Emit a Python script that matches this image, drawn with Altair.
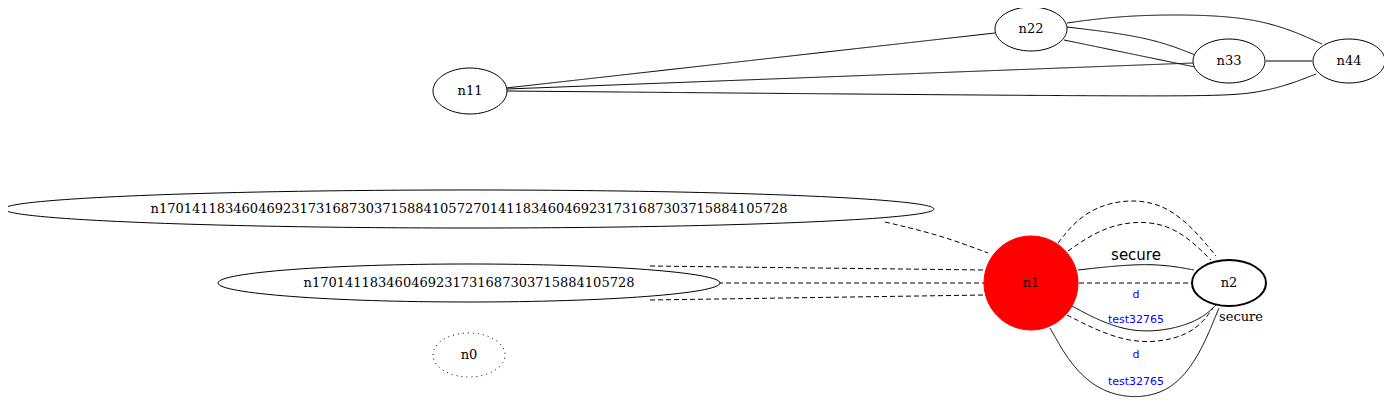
import altair as alt
import pandas as pd

LONG1 = "n1701411834604692317316873037158841057270141183460469231731687303715884105728"
LONG2 = "n170141183460469231731687303715884105728"

# nós: nome, x, y, largura, altura, estilo (coordenadas, em px)
node_names = ["n11", "n22", "n33", "n44", LONG1, LONG2, "n0", "n1", "n2"]
node_x = [470, 1031, 1229, 1349, 469, 469, 469, 1031, 1229]
node_y = [91, 29, 61, 61, 209, 283, 355, 283, 283]
node_w = [74, 72, 72, 72, 930, 502, 72, 94, 74]
node_h = [46, 44, 44, 44, 38, 38, 44, 94, 46]
node_style = ["plain", "plain", "plain", "plain", "plain", "plain", "dotted", "red", "bold"]

# arestas: pontos de controle e estilo
edges = {
    "a": ([(506, 88), (995, 33)], "solid"),
    "b": ([(507, 89), (1193, 63)], "solid"),
    "c": ([(507, 91), (1180, 97), (1262, 95), (1316, 74)], "solid"),
    "d": ([(1067, 27), (1150, 37), (1195, 55)], "solid"),
    "e": ([(1064, 40), (1195, 67)], "solid"),
    "f": ([(1067, 23), (1110, 17), (1170, 14), (1262, 17), (1322, 44)], "solid"),
    "g": ([(1266, 61), (1312, 61)], "solid"),
    "h": ([(885, 222), (940, 235), (988, 253)], "dashed"),
    "i": ([(650, 266), (985, 270)], "dashed"),
    "j": ([(718, 283), (984, 283)], "dashed"),
    "k": ([(650, 300), (985, 295)], "dashed"),
    "l": ([(1058, 243), (1090, 203), (1165, 195), (1216, 256)], "dashed"),
    "m": ([(1068, 251), (1110, 222), (1170, 220), (1211, 260)], "dashed"),
    "n": ([(1078, 270), (1150, 262), (1194, 270)], "solid"),
    "o": ([(1079, 283), (1192, 283)], "dashed"),
    "p": ([(1070, 305), (1130, 337), (1195, 325), (1216, 305)], "solid"),
    "q": ([(1067, 315), (1130, 347), (1192, 337), (1213, 308)], "dashed"),
    "r": ([(1050, 328), (1090, 398), (1180, 402), (1219, 308)], "solid"),
}

# rótulos das arestas
lab_text = ["secure", "d", "test32765", "d", "test32765", "secure"]
lab_x = [1136, 1136, 1136, 1136, 1136, 1241]
lab_y = [255, 295, 320, 355, 382, 317]
lab_color = ["black", "blue", "blue", "blue", "blue", "black"]
lab_font = ["DejaVu Sans", "DejaVu Sans", "DejaVu Sans", "DejaVu Sans", "DejaVu Sans", "DejaVu Serif"]
lab_size = [15, 11, 11, 11, 11, 13]

nodes = pd.DataFrame({"name": node_names, "x": node_x, "y": node_y,
                      "w": node_w, "h": node_h, "style": node_style})
nodes["size"] = nodes["w"] ** 2
nodes["shape"] = [f"M -1 0 A 1 {h / w:.4f} 0 1 1 1 0 A 1 {h / w:.4f} 0 1 1 -1 0 Z"
                  for w, h in zip(nodes["w"], nodes["h"])]

rows = []
for key, (pts, st) in edges.items():
    for i, (px, py) in enumerate(pts):
        rows.append({"edge": key, "i": i, "x": px, "y": py, "style": st})
edf = pd.DataFrame(rows)

labels = pd.DataFrame({"t": lab_text, "x": lab_x, "y": lab_y, "c": lab_color,
                       "f": lab_font, "s": lab_size})

X = alt.X("x:Q", scale=alt.Scale(domain=[8, 1384]), axis=None)
Y = alt.Y("y:Q", scale=alt.Scale(domain=[399, 8]), axis=None)


def edge_layer(st, dash):
    return alt.Chart(edf[edf["style"] == st]).mark_line(
        interpolate="basis", color="black", strokeWidth=1, strokeDash=dash
    ).encode(x=X, y=Y, detail="edge:N", order="i:Q")


def node_layer(st, **kw):
    return alt.Chart(nodes[nodes["style"] == st]).mark_point(
        filled=False, opacity=1, **kw
    ).encode(x=X, y=Y, size=alt.Size("size:Q", scale=None),
             shape=alt.Shape("shape:N", scale=None))


camadas = [
    edge_layer("solid", [1, 0]),
    edge_layer("dashed", [5, 3]),
    node_layer("plain", stroke="black", strokeWidth=1, fill="white", fillOpacity=1),
    node_layer("dotted", stroke="black", strokeWidth=1, strokeDash=[1, 4]),
    node_layer("red", stroke="red", fill="red", fillOpacity=1, strokeWidth=1),
    node_layer("bold", stroke="black", strokeWidth=2, fill="white", fillOpacity=1),
    alt.Chart(nodes).mark_text(font="DejaVu Serif", fontSize=13, color="black").encode(
        x=X, y=Y, text="name:N"),
]
for i in range(len(labels)):
    camadas.append(alt.Chart(labels.iloc[[i]]).mark_text(
        font=labels["f"][i], fontSize=int(labels["s"][i]), color=labels["c"][i]
    ).encode(x=X, y=Y, text="t:N"))

chart = alt.layer(*camadas).properties(
    width=1376, height=391, padding=0, autosize="none"
).configure_view(stroke=None)

chart.save("out.html", embed_options={"renderer": "svg", "actions": False})
